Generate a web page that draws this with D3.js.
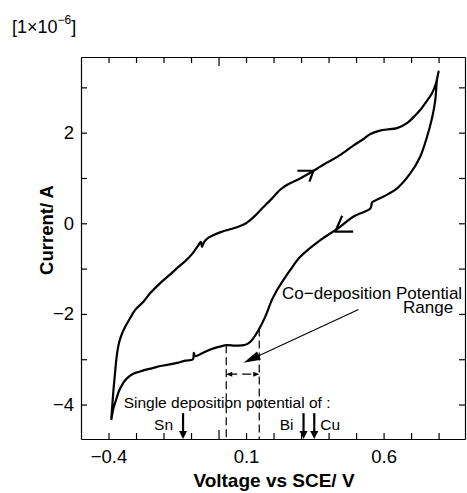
<!DOCTYPE html>
<meta charset="utf-8">
<style>
body { margin: 0; background: white; }
svg { display: block; font-family: "Liberation Sans", Arial, sans-serif; }
.axis path, .axis line { fill: none; stroke: #000; stroke-width: 1.2px; }
.axis text { font-size: 18.5px; fill: #000; }
.curve { fill: none; stroke: #000; stroke-width: 2.2px; stroke-linejoin: round; }
</style>
<body>
<svg width="467" height="493"></svg>
<script src="https://d3js.org/d3.v7.min.js"></script>
<script>
// cyclic voltammogram (V vs SCE, current in 1e-6 A)
var forwardV = [-0.390, -0.386, -0.382, -0.377, -0.373, -0.367, -0.361, -0.350, -0.339, -0.320,
  -0.303, -0.273, -0.248, -0.212, -0.180, -0.151, -0.120, -0.095, -0.073, -0.064, -0.060, -0.052,
  -0.040, -0.018, 0.005, 0.031, 0.055, 0.079, 0.100, 0.115, 0.135, 0.152, 0.170, 0.188, 0.205,
  0.224, 0.250, 0.273, 0.300, 0.321, 0.345, 0.370, 0.394, 0.430, 0.460, 0.491, 0.527, 0.552,
  0.590, 0.612, 0.649, 0.685, 0.715, 0.733, 0.755, 0.776, 0.790, 0.800];
var forwardI = [-4.34, -4.00, -3.68, -3.35, -3.09, -2.80, -2.62, -2.42, -2.28, -2.08,
  -1.91, -1.73, -1.54, -1.32, -1.15, -0.99, -0.83, -0.67, -0.48, -0.41, -0.52, -0.41,
  -0.33, -0.26, -0.20, -0.15, -0.11, -0.06, 0.00, 0.07, 0.18, 0.29, 0.40, 0.51, 0.62,
  0.74, 0.85, 0.92, 1.00, 1.07, 1.16, 1.25, 1.34, 1.46, 1.58, 1.72, 1.86, 1.97,
  2.05, 2.07, 2.10, 2.21, 2.38, 2.50, 2.68, 2.87, 3.08, 3.35];
var reverseV = [0.794, 0.788, 0.776, 0.758, 0.733, 0.697, 0.649, 0.600, 0.558, 0.556, 0.551,
  0.491, 0.430, 0.370, 0.297, 0.261, 0.236, 0.215, 0.194, 0.170, 0.145, 0.121, 0.105, 0.091,
  0.060, 0.031, 0.005, -0.018, -0.040, -0.060, -0.085, -0.090, -0.093, -0.121, -0.150, -0.182,
  -0.212, -0.242, -0.270, -0.291, -0.310, -0.327, -0.340, -0.351, -0.362, -0.369, -0.376,
  -0.382, -0.386, -0.390];
var reverseI = [3.16, 2.72, 2.32, 1.91, 1.47, 1.10, 0.77, 0.59, 0.46, 0.40, 0.32,
  0.15, -0.13, -0.37, -0.74, -1.03, -1.25, -1.45, -1.69, -2.06, -2.36, -2.58, -2.66, -2.69,
  -2.70, -2.69, -2.72, -2.76, -2.81, -2.87, -2.93, -2.86, -3.00, -3.03, -3.08, -3.12,
  -3.15, -3.20, -3.24, -3.28, -3.32, -3.39, -3.47, -3.57, -3.70, -3.83, -3.96,
  -4.08, -4.20, -4.34];

var xTicks = [-0.4, -0.3, -0.2, -0.1, 0.0, 0.1, 0.2, 0.3, 0.4, 0.5, 0.6, 0.7, 0.8];
var xLabels = [-0.4, 0.1, 0.6];
var yTicks = [-4, -3, -2, -1, 0, 1, 2, 3];
var yLabels = [-4, -2, 0, 2];

// scan direction arrows: [V, I]
var fwdArrow = [0.345, 1.16];
var revArrow = [0.424, -0.185];

// co-deposition window
var rangeV = [0.028, 0.148];
var rangeTopI = [-2.69, -2.32];
var rangeArrowI = -3.33;
var pointerFrom = [0.509, -1.90];
var pointerTo = [0.091, -3.08];

// single deposition potentials
var metals = ["Sn", "Bi", "Cu"];
var metalV = [-0.129, 0.309, 0.348];
var metalTopI = -4.19;

var svg = d3.select("svg");
var pL = 81, pT = 57, pR = 465, pB = 439;

var x = d3.scaleLinear().domain([-0.5, 0.896]).range([pL, pR]);
var y = d3.scaleLinear().domain([3.67, -4.76]).range([pT, pB]);

function fmtX(d) {
  return xLabels.some(function(v) { return Math.abs(v - d) < 1e-6; }) ? d3.format(".1f")(d) : "";
}
function fmtY(d) { return yLabels.indexOf(d) >= 0 ? d3.format("d")(d) : ""; }

svg.append("g").attr("class", "axis xb")
    .attr("transform", "translate(0," + pB + ")")
    .call(d3.axisBottom(x).tickValues(xTicks).tickSizeInner(-6).tickSizeOuter(0).tickPadding(11).tickFormat(fmtX));
svg.append("g").attr("class", "axis xt")
    .attr("transform", "translate(0," + pT + ")")
    .call(d3.axisTop(x).tickValues(xTicks).tickSizeInner(-6).tickSizeOuter(0).tickFormat(""));
svg.append("g").attr("class", "axis")
    .attr("transform", "translate(" + pL + ",0)")
    .call(d3.axisLeft(y).tickValues(yTicks).tickSizeInner(-6).tickSizeOuter(0).tickPadding(7).tickFormat(fmtY));
svg.append("g").attr("class", "axis")
    .attr("transform", "translate(" + pR + ",0)")
    .call(d3.axisRight(y).tickValues(yTicks).tickSizeInner(-6).tickSizeOuter(0).tickFormat(""));

// longer tick at 0.0 on the top/bottom frame
svg.selectAll(".xb .tick line, .xt .tick line").filter(function(d) { return Math.abs(d) < 1e-9; })
    .attr("y2", function() { return +this.getAttribute("y2") * 1.5; });

// the loop
var pts = forwardV.map(function(v, i) { return [v, forwardI[i]]; })
  .concat(reverseV.map(function(v, i) { return [v, reverseI[i]]; }));
var line = d3.line()
    .x(function(d) { return x(d[0]); })
    .y(function(d) { return y(d[1]); })
    .curve(d3.curveCatmullRom.alpha(0.5));
svg.append("path").attr("class", "curve").attr("d", line(pts));

// half arrows on the curve
var fx = x(fwdArrow[0]), fy = y(fwdArrow[1]);
svg.append("path").attr("class", "curve").attr("stroke-width", 2.6)
    .attr("d", "M" + (fx - 16) + "," + fy + "L" + fx + "," + fy + "L" + (fx - 4) + "," + (fy + 11));
var rx = x(revArrow[0]), ry = y(revArrow[1]);
svg.append("path").attr("class", "curve").attr("stroke-width", 2.6)
    .attr("d", "M" + (rx + 18) + "," + ry + "L" + rx + "," + ry + "L" + (rx + 7) + "," + (ry - 16));

// dashed verticals for the co-deposition range
rangeV.forEach(function(v, i) {
  svg.append("line")
      .attr("x1", x(v)).attr("x2", x(v))
      .attr("y1", y(rangeTopI[i])).attr("y2", pB)
      .attr("stroke", "#000").attr("stroke-width", 1.2).attr("stroke-dasharray", "8,4");
});
var ay = y(rangeArrowI), ax0 = x(rangeV[0]), ax1 = x(rangeV[1]);
svg.append("line")
    .attr("x1", ax0 + 2).attr("x2", ax1 - 2).attr("y1", ay).attr("y2", ay)
    .attr("stroke", "#000").attr("stroke-width", 1.2).attr("stroke-dasharray", "9,5");
svg.append("path").attr("fill", "#000")
    .attr("d", "M" + ax0 + "," + ay + "l6,-2.5l0,5z" + "M" + ax1 + "," + ay + "l-6,-2.5l0,5z");

// pointer from the label
var px0 = x(pointerFrom[0]), py0 = y(pointerFrom[1]), px1 = x(pointerTo[0]), py1 = y(pointerTo[1]);
var ang = Math.atan2(py1 - py0, px1 - px0);
svg.append("line").attr("x1", px0).attr("y1", py0)
    .attr("x2", px1 - 12 * Math.cos(ang)).attr("y2", py1 - 12 * Math.sin(ang))
    .attr("stroke", "#000").attr("stroke-width", 1.1);
var hl = 17, hw = 4.5;
var bx = px1 - hl * Math.cos(ang), by = py1 - hl * Math.sin(ang);
svg.append("path").attr("fill", "#000")
    .attr("d", "M" + px1 + "," + py1 +
      "L" + (bx + hw * Math.sin(ang)) + "," + (by - hw * Math.cos(ang)) +
      "L" + (bx - hw * Math.sin(ang)) + "," + (by + hw * Math.cos(ang)) + "Z");

svg.append("text").attr("x", x(0.231)).attr("y", y(-1.66))
    .style("font-size", "17px").text("Co\u2212deposition Potential");
svg.append("text").attr("x", x(0.853)).attr("y", y(-1.99)).attr("text-anchor", "end")
    .style("font-size", "17px").text("Range");

// single deposition potentials
svg.append("text").attr("x", x(-0.345)).attr("y", y(-4.08))
    .style("font-size", "15.5px").text("Single deposition potential of :");
metals.forEach(function(m, i) {
  var mx = x(metalV[i]);
  svg.append("line").attr("x1", mx).attr("x2", mx).attr("y1", y(metalTopI)).attr("y2", pB - 6)
      .attr("stroke", "#000").attr("stroke-width", 2.2);
  svg.append("path").attr("fill", "#000")
      .attr("d", "M" + mx + "," + pB + "l-4,-8l8,0z");
  var after = m === "Cu";
  svg.append("text").attr("x", mx + (after ? 6 : -10)).attr("y", y(-4.56))
      .attr("text-anchor", after ? "start" : "end")
      .style("font-size", "15.5px").text(m);
});

// titles
svg.append("text").attr("x", 274).attr("y", 487).attr("text-anchor", "middle")
    .style("font-size", "19px").style("font-weight", "bold").text("Voltage vs SCE/ V");
svg.append("text").attr("transform", "translate(53,230) rotate(-90)").attr("text-anchor", "middle")
    .style("font-size", "18.5px").style("font-weight", "bold").text("Current/ A");

var unit = svg.append("text").attr("x", 12).attr("y", 33).style("font-size", "18px");
unit.append("tspan").text("[1\u00d710");
unit.append("tspan").attr("dy", -9).style("font-size", "12px").text("\u22126");
unit.append("tspan").attr("dy", 9).text("]");
</script>
</body>
